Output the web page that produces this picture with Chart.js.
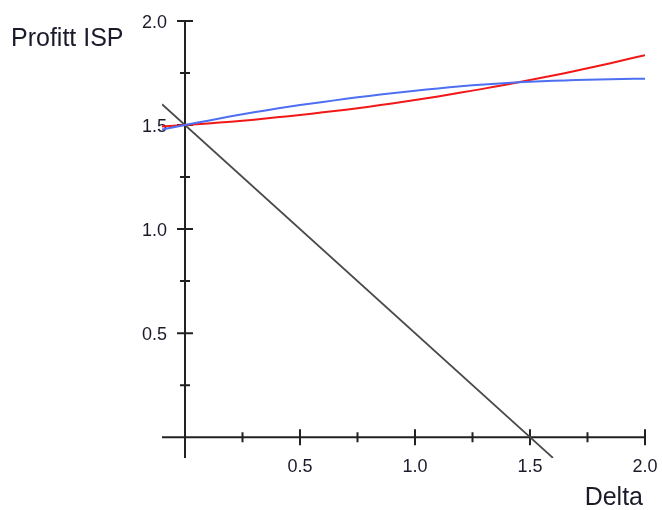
<!DOCTYPE html>
<html>
<head>
<meta charset="utf-8">
<script src="https://cdn.jsdelivr.net/npm/chart.js@4/dist/chart.umd.min.js"></script>
<style>
  html, body { margin: 0; padding: 0; background: #ffffff; }
  #wrap { width: 662px; height: 510px; }
</style>
</head>
<body>
<div id="wrap"><canvas id="c" width="662" height="510"></canvas></div>
<script>
// ---- data ----
const deltaValues = [-0.1, 0, 0.1, 0.2, 0.3, 0.4, 0.5, 0.6, 0.7, 0.8, 0.9, 1.0, 1.1, 1.2, 1.3, 1.4, 1.5, 1.6, 1.7, 1.8, 1.9, 2.0];
const profitRed  = [1.493, 1.5, 1.508, 1.516, 1.526, 1.537, 1.548, 1.561, 1.574, 1.588, 1.604, 1.62, 1.637, 1.656, 1.675, 1.695, 1.716, 1.738, 1.761, 1.785, 1.810, 1.836];
const profitBlue = [1.478, 1.5, 1.521, 1.542, 1.561, 1.579, 1.596, 1.611, 1.626, 1.640, 1.653, 1.665, 1.676, 1.686, 1.695, 1.702, 1.708, 1.713, 1.716, 1.719, 1.721, 1.723];
const lineDelta  = [-0.1, 1.6];
const lineProfit = [1.6, -0.1];

const xTickValues = [0.5, 1.0, 1.5, 2.0];
const xTickLabels = ['0.5', '1.0', '1.5', '2.0'];
const yTickValues = [0.5, 1.0, 1.5, 2.0];
const yTickLabels = ['0.5', '1.0', '1.5', '2.0'];
const minorTickValues = [0.25, 0.75, 1.25, 1.75];
const xAxisTitle = 'Delta';
const yAxisTitle = 'Profitt ISP';

const toPoints = (xs, ys) => xs.map((x, i) => ({ x: x, y: ys[i] }));

const axesPlugin = {
  id: 'crossAxes',
  beforeDatasetsDraw(chart) {
    const { ctx, scales: { x, y } } = chart;
    const x0 = x.getPixelForValue(0);
    const y0 = y.getPixelForValue(0);
    ctx.save();
    ctx.strokeStyle = '#222222';
    ctx.lineWidth = 2;
    ctx.lineCap = 'butt';
    // axis lines
    ctx.beginPath();
    ctx.moveTo(x.getPixelForValue(x.min), y0);
    ctx.lineTo(x.getPixelForValue(x.max), y0);
    ctx.moveTo(x0, y.getPixelForValue(y.min));
    ctx.lineTo(x0, y.getPixelForValue(y.max));
    ctx.stroke();
    // ticks
    ctx.beginPath();
    xTickValues.forEach(v => { const p = x.getPixelForValue(v); ctx.moveTo(p, y0 - 8); ctx.lineTo(p, y0 + 8); });
    yTickValues.forEach(v => { const p = y.getPixelForValue(v); ctx.moveTo(x0 - 8, p); ctx.lineTo(x0 + 8, p); });
    minorTickValues.forEach(v => {
      const px = x.getPixelForValue(v); ctx.moveTo(px, y0 - 5); ctx.lineTo(px, y0 + 5);
      const py = y.getPixelForValue(v); ctx.moveTo(x0 - 5, py); ctx.lineTo(x0 + 5, py);
    });
    ctx.stroke();
    // tick labels
    ctx.fillStyle = '#1a1a2a';
    ctx.font = '18px "Liberation Sans", Arial, sans-serif';
    ctx.textAlign = 'center';
    ctx.textBaseline = 'alphabetic';
    xTickValues.forEach((v, i) => ctx.fillText(xTickLabels[i], x.getPixelForValue(v), y0 + 35));
    ctx.textAlign = 'right';
    ctx.textBaseline = 'middle';
    yTickValues.forEach((v, i) => ctx.fillText(yTickLabels[i], x0 - 18, y.getPixelForValue(v) + 2));
    // axis titles
    ctx.font = '25px "Liberation Sans", Arial, sans-serif';
    ctx.textBaseline = 'alphabetic';
    ctx.textAlign = 'right';
    ctx.fillText(xAxisTitle, x.getPixelForValue(x.max) - 2, y0 + 68);
    ctx.textAlign = 'left';
    ctx.fillText(yAxisTitle, 11, y.getPixelForValue(y.max) + 25);
    ctx.restore();
  }
};

new Chart(document.getElementById('c'), {
  type: 'line',
  data: {
    datasets: [
      { label: 'line', data: toPoints(lineDelta, lineProfit), borderColor: '#4a4a4a', borderWidth: 1.7, pointRadius: 0, tension: 0, order: 3 },
      { label: 'red', data: toPoints(deltaValues, profitRed), borderColor: '#f21818', borderWidth: 2, pointRadius: 0, tension: 0.3, order: 2 },
      { label: 'blue', data: toPoints(deltaValues, profitBlue), borderColor: '#4d6ff2', borderWidth: 2, pointRadius: 0, tension: 0.3, order: 1 }
    ]
  },
  options: {
    responsive: false,
    animation: false,
    devicePixelRatio: 1,
    layout: { padding: { left: 162, right: 17, top: 21, bottom: 52 } },
    plugins: { legend: { display: false }, tooltip: { enabled: false } },
    scales: {
      x: { type: 'linear', min: -0.1, max: 2.0, display: false },
      y: { type: 'linear', min: -0.1, max: 2.0, display: false }
    }
  },
  plugins: [axesPlugin]
});
</script>
</body>
</html>
